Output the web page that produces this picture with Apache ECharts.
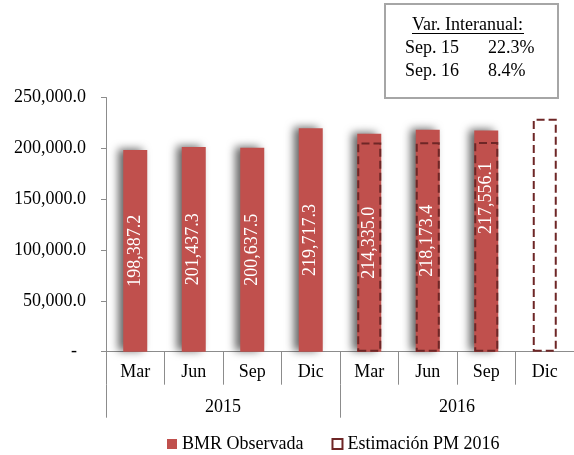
<!DOCTYPE html>
<html>
<head>
<meta charset="utf-8">
<script src="https://cdn.jsdelivr.net/npm/echarts@6/dist/echarts.min.js"></script>
<style>
  html, body { margin: 0; padding: 0; background: #fff; }
  #chart { width: 574px; height: 455px; }
</style>
</head>
<body>
<div id="chart"></div>
<script>
// datos
var months = ['Mar', 'Jun', 'Sep', 'Dic', 'Mar', 'Jun', 'Sep', 'Dic'];
var years = ['2015', '2016'];
var observada = [198387.2, 201437.3, 200637.5, 219717.3, 214335.0, 218173.4, 217556.1, null];
var estimacion = [null, null, null, null, 205800, 206000, 206300, 229000];
var yTicks = [0, 50000, 100000, 150000, 200000, 250000];
var varLabels = ['Sep. 15', 'Sep. 16'];
var varValues = ['22.3%', '8.4%'];

var FONT = 'Liberation Serif';
var FS = 18;
var RED = '#c0504d';
var DARK = '#6e2626';

function fmt (v) {
  return v.toLocaleString('en-US', { minimumFractionDigits: 1, maximumFractionDigits: 1 });
}

var chart = echarts.init(document.getElementById('chart'));

var obsData = observada.map(function (v, i) {
  var item = { value: v };
  // la etiqueta de Sep 2016 esta mas arriba en el original
  if (i === 6) item.label = { offset: [43, 0] };
  return item;
});

chart.setOption({
  animation: false,
  textStyle: { fontFamily: FONT },
  grid: { left: 106, top: 97.5, width: 472, height: 254.2 },
  legend: {
    left: 162,
    top: 430,
    itemWidth: 10,
    itemHeight: 10,
    itemGap: 28,
    textStyle: { fontFamily: FONT, fontSize: FS, color: '#000' },
    data: [
      { name: 'BMR Observada', icon: 'rect', itemStyle: { color: RED, shadowBlur: 0, borderWidth: 0 } },
      { name: 'Estimación PM 2016', icon: 'rect', itemStyle: { color: '#fff', borderColor: DARK, borderWidth: 2, borderType: 'solid', shadowBlur: 0 } }
    ]
  },
  xAxis: [
    {
      type: 'category',
      data: months,
      axisLine: { show: true, lineStyle: { color: '#8c8c8c', width: 1 } },
      axisTick: { show: true, interval: 0, length: 33, lineStyle: { color: '#8c8c8c' } },
      axisLabel: { interval: 0, margin: 12, color: '#000', fontSize: FS, fontFamily: FONT }
    },
    {
      type: 'category',
      data: years,
      position: 'bottom',
      offset: 33,
      axisLine: { show: false },
      axisTick: { show: true, interval: 0, length: 33, lineStyle: { color: '#8c8c8c' } },
      axisLabel: { interval: 0, margin: 14, color: '#000', fontSize: FS, fontFamily: FONT }
    }
  ],
  yAxis: {
    type: 'value',
    min: yTicks[0],
    max: yTicks[yTicks.length - 1],
    interval: yTicks[1] - yTicks[0],
    axisLine: { show: true, lineStyle: { color: '#8c8c8c' } },
    axisTick: { show: true, length: 5, lineStyle: { color: '#8c8c8c' } },
    splitLine: { show: false },
    axisLabel: {
      margin: 20,
      color: '#000',
      fontSize: FS,
      fontFamily: FONT,
      formatter: function (v) { return v === 0 ? '-  ' : fmt(v); }
    }
  },
  series: [
    {
      name: 'BMR Observada',
      type: 'bar',
      xAxisIndex: 0,
      barWidth: 24,
      data: obsData,
      itemStyle: {
        color: RED,
        shadowBlur: 9,
        shadowOffsetX: -5,
        shadowOffsetY: -1,
        shadowColor: 'rgba(0,0,0,0.6)'
      },
      label: {
        show: true,
        position: 'inside',
        rotate: 90,
        color: '#fff',
        fontSize: FS,
        fontFamily: FONT,
        formatter: function (p) { return fmt(p.value); }
      }
    },
    {
      name: 'Estimación PM 2016',
      type: 'bar',
      xAxisIndex: 0,
      barWidth: 24,
      barGap: '-100%',
      data: estimacion,
      z: 3,
      itemStyle: {
        color: 'rgba(255,255,255,0)',
        borderColor: DARK,
        borderWidth: 2,
        borderType: [8, 4]
      }
    }
  ],
  graphic: [
    {
      type: 'rect',
      shape: { x: 385, y: 4, width: 173, height: 94 },
      style: { fill: '#fff', stroke: '#a6a6a6', lineWidth: 2 }
    },
    {
      type: 'text',
      x: 412, y: 16,
      style: { text: 'Var. Interanual:', font: FS + 'px ' + FONT, fill: '#000' }
    },
    {
      type: 'line',
      shape: { x1: 412, y1: 33.5, x2: 524, y2: 33.5 },
      style: { stroke: '#000', lineWidth: 1 }
    },
    {
      type: 'text',
      x: 405, y: 39,
      style: { text: varLabels[0], font: FS + 'px ' + FONT, fill: '#000' }
    },
    {
      type: 'text',
      x: 488, y: 39,
      style: { text: varValues[0], font: FS + 'px ' + FONT, fill: '#000' }
    },
    {
      type: 'text',
      x: 405, y: 62,
      style: { text: varLabels[1], font: FS + 'px ' + FONT, fill: '#000' }
    },
    {
      type: 'text',
      x: 488, y: 62,
      style: { text: varValues[1], font: FS + 'px ' + FONT, fill: '#000' }
    }
  ]
});
</script>
</body>
</html>
